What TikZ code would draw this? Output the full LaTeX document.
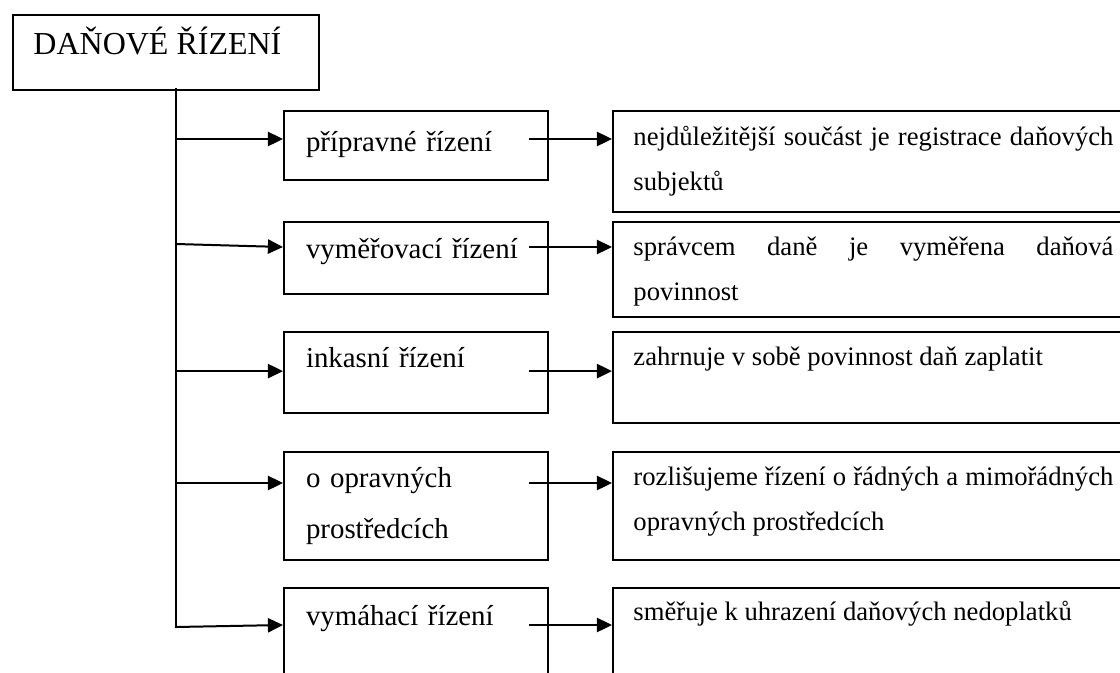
\documentclass[tikz,border=0pt]{standalone}
\usepackage{fontspec}
\setmainfont{Liberation Serif}
\usetikzlibrary{arrows.meta}

\newcommand{\nohyph}{\hyphenpenalty=10000\relax\exhyphenpenalty=10000\relax}

\tikzset{
  box/.style={draw, line width=0.9pt, inner sep=0pt, anchor=north west},
  conn/.style={line width=0.9pt, -{Triangle[length=6.8pt,width=6.4pt]}},
  trunkline/.style={line width=0.9pt},
  titletext/.style={inner sep=0pt, anchor=base west, font=\fontsize{14.4pt}{16pt}\selectfont},
  midtext/.style={inner sep=0pt, anchor=base west, text width=105pt, align=left, font=\fontsize{13pt}{22.95pt}\selectfont},
  righttext/.style={inner sep=0pt, anchor=base west, text width=216pt, align=justify,
    font=\fontsize{12pt}{20.25pt}\selectfont\nohyph}
}

\begin{document}
\begin{tikzpicture}[x=1pt,y=-1pt,line cap=rect]
  \useasboundingbox (0,0) rectangle (504,302.85);
  \clip (0,0) rectangle (504,302.85);
  % main box
  \node[box, minimum width=137.7pt, minimum height=33.75pt] (dan) at (5.4,6.3) {};
  \node[titletext] (dantxt) at (14.85,24.3) {DAŇOVÉ ŘÍZENÍ};
  % middle column
  \node[box, minimum width=118.8pt, minimum height=31.05pt] (pri) at (127.35,49.5) {};
  \node[box, minimum width=118.8pt, minimum height=32.4pt] (vym) at (127.35,99.45) {};
  \node[box, minimum width=118.8pt, minimum height=36.45pt] (ink) at (127.35,148.95) {};
  \node[box, minimum width=118.8pt, minimum height=48.6pt] (opr) at (127.35,202.95) {};
  \node[box, minimum width=118.8pt, minimum height=50pt] (vmh) at (127.35,264.15) {};
  \node[midtext] (pritxt) at (137.5,67.95) {přípravné řízení};
  \node[midtext] (vymtxt) at (137.5,116.1) {vyměřovací řízení};
  \node[midtext] (inktxt) at (137.5,165.15) {inkasní řízení};
  \node[midtext] (oprtxt) at (137.5,219.15) {o opravných\\prostředcích};
  \node[midtext] (vmhtxt) at (137.5,281.25) {vymáhací řízení};
  % right column
  \node[box, minimum width=234.6pt, minimum height=45.45pt] (pripop) at (275.4,49.5) {};
  \node[box, minimum width=234.6pt, minimum height=42.75pt] (vympop) at (275.4,99.45) {};
  \node[box, minimum width=234.6pt, minimum height=40.95pt] (inkpop) at (275.4,148.95) {};
  \node[box, minimum width=234.6pt, minimum height=48.6pt] (oprpop) at (275.4,202.95) {};
  \node[box, minimum width=234.6pt, minimum height=50pt] (vmhpop) at (275.4,264.15) {};
  \node[righttext] (priptxt) at (284.85,65.25) {nejdůležitější součást je registrace daňových subjektů};
  \node[righttext] (vymptxt) at (284.85,114.75) {správcem daně je vyměřena daňová povinnost};
  \node[righttext] (inkptxt) at (284.85,164.25) {zahrnuje v sobě povinnost daň zaplatit};
  \node[righttext] (oprptxt) at (284.85,218.25) {rozlišujeme řízení o řádných a mimořádných opravných prostředcích};
  \node[righttext] (vmhptxt) at (284.85,279) {směřuje k uhrazení daňových nedoplatků};
  % trunk
  \coordinate (t0) at (79.2,40.05);
  \coordinate (t1) at (79.2,62.55);
  \coordinate (t2) at (79.2,109.8);
  \coordinate (t3) at (79.2,167.0);
  \coordinate (t4) at (79.2,217.35);
  \coordinate (t5) at (79.2,282.15);
  \draw[trunkline] (t0) -- (t5);
  % arrow heights at the boxes
  \coordinate (s1) at (238.5,62.55);
  \coordinate (s2) at (238.5,111.15);
  \coordinate (s3) at (238.5,167.0);
  \coordinate (s4) at (238.5,217.35);
  \coordinate (s5) at (238.5,281.25);
  \draw[conn] (t1) -- (s1 -| pri.west);
  \draw[conn] (t2) -- (s2 -| vym.west);
  \draw[conn] (t3) -- (s3 -| ink.west);
  \draw[conn] (t4) -- (s4 -| opr.west);
  \draw[conn] (t5) -- (s5 -| vmh.west);
  \draw[conn] (s1) -- (s1 -| pripop.west);
  \draw[conn] (s2) -- (s2 -| vympop.west);
  \draw[conn] (s3) -- (s3 -| inkpop.west);
  \draw[conn] (s4) -- (s4 -| oprpop.west);
  \draw[conn] (s5) -- (s5 -| vmhpop.west);
\end{tikzpicture}
\end{document}
